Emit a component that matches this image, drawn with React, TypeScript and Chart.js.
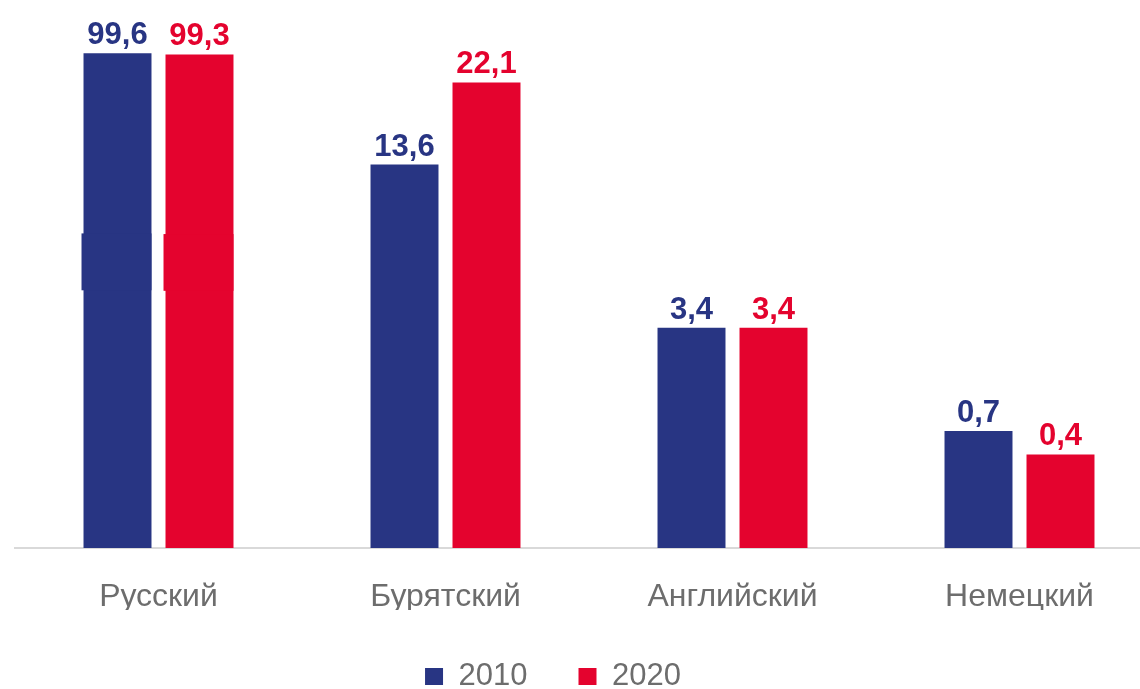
import React, { useEffect, useRef } from 'react';
import { Chart, registerables, LinearScale } from 'chart.js';

// ---- data ----
const categories = ['Русский', 'Бурятский', 'Английский', 'Немецкий'];
const seriesLabels = ['2010', '2020'];
const values2010 = [99.6, 13.6, 3.4, 0.7];
const values2020 = [99.3, 22.1, 3.4, 0.4];

// ---- styles ----
const BLUE = '#283583';
const RED = '#e4032e';
const GREY_TEXT = '#6d6d6d';
const FONT = "'Liberation Sans', Arial, sans-serif";

// broken power axis: compressed (power) scale with a break for the large values
const EXPONENT = 0.4;
const BREAK_FROM = 25;
const BREAK_TO = 98;

function transform(v: number): number {
  const x = Math.max(v, 0);
  if (x <= BREAK_FROM) return Math.pow(x, EXPONENT);
  if (x < BREAK_TO) return Math.pow(BREAK_FROM, EXPONENT);
  return Math.pow(BREAK_FROM, EXPONENT) + Math.pow(x, EXPONENT) - Math.pow(BREAK_TO, EXPONENT);
}
function inverse(t: number): number {
  const tf = Math.pow(BREAK_FROM, EXPONENT);
  if (t <= tf) return Math.pow(Math.max(t, 0), 1 / EXPONENT);
  return Math.pow(t - tf + Math.pow(BREAK_TO, EXPONENT), 1 / EXPONENT);
}

class BrokenPowerScale extends LinearScale {
  static id = 'brokenPower';
  static defaults = (LinearScale as any).defaults;
  getPixelForValue(value: number) {
    const t0 = transform((this as any).min);
    const t1 = transform((this as any).max);
    return this.getPixelForDecimal((transform(value) - t0) / (t1 - t0));
  }
  getValueForPixel(pixel: number) {
    const t0 = transform((this as any).min);
    const t1 = transform((this as any).max);
    return inverse(t0 + this.getDecimalForPixel(pixel) * (t1 - t0));
  }
}

Chart.register(...registerables, BrokenPowerScale);

const fmt = (v: number) => v.toFixed(1).replace('.', ',');

const valueLabelsPlugin = {
  id: 'valueLabels',
  afterDatasetsDraw(chart: any) {
    const ctx = chart.ctx;
    ctx.save();
    chart.data.datasets.forEach((ds: any, di: number) => {
      const meta = chart.getDatasetMeta(di);
      meta.data.forEach((el: any, i: number) => {
        ctx.fillStyle = ds.backgroundColor;
        ctx.font = `bold 31px ${FONT}`;
        ctx.textAlign = 'center';
        ctx.textBaseline = 'alphabetic';
        ctx.fillText(fmt(ds.data[i]), el.x, el.y - 9);
      });
    });
    ctx.restore();
  },
};

// break marks on the broken (largest) bars
const breakMarkPlugin = {
  id: 'breakMark',
  afterDatasetsDraw(chart: any) {
    const ctx = chart.ctx;
    ctx.save();
    chart.data.datasets.forEach((ds: any, di: number) => {
      const meta = chart.getDatasetMeta(di);
      meta.data.forEach((el: any, i: number) => {
        if (ds.data[i] < BREAK_TO) return;
        const len = el.base - el.y;
        const y1 = el.base - len * 0.636;
        const y2 = el.base - len * 0.521;
        ctx.fillStyle = ds.backgroundColor;
        ctx.fillRect(el.x - el.width / 2 - 2, y1, el.width + 2, y2 - y1);
      });
    });
    ctx.restore();
  },
};

export default function App() {
  const ref = useRef<HTMLCanvasElement | null>(null);
  useEffect(() => {
    if (!ref.current) return;
    const chart = new Chart(ref.current, {
      type: 'bar',
      data: {
        labels: categories,
        datasets: [
          {
            label: seriesLabels[0],
            data: values2010,
            backgroundColor: BLUE,
            borderWidth: 0,
            barPercentage: 0.829,
            categoryPercentage: 0.5714,
          },
          {
            label: seriesLabels[1],
            data: values2020,
            backgroundColor: RED,
            borderWidth: 0,
            barPercentage: 0.829,
            categoryPercentage: 0.5714,
          },
        ],
      },
      options: {
        responsive: false,
        animation: false,
        devicePixelRatio: 1,
        layout: { padding: { top: 52, left: 0, right: 0, bottom: 0 } },
        scales: {
          x: {
            type: 'category',
            offset: true,
            grid: { display: false, drawTicks: false },
            border: { display: true, color: '#d9d9d9', width: 2 },
            ticks: { color: GREY_TEXT, font: { size: 32, family: FONT }, padding: 30 },
            afterFit: (s: any) => {
              s.height = 62;
            },
          },
          y: {
            type: 'brokenPower' as any,
            min: 0,
            max: 100,
            position: 'left',
            grid: { display: false },
            border: { display: false },
            ticks: { display: false },
            afterFit: (s: any) => {
              s.width = 72;
            },
          },
        },
        plugins: {
          legend: {
            position: 'bottom',
            align: 'center',
            labels: {
              boxWidth: 18,
              boxHeight: 17,
              padding: 51,
              color: GREY_TEXT,
              font: { size: 31, family: FONT },
            },
          },
          tooltip: { enabled: false },
        },
      } as any,
      plugins: [breakMarkPlugin, valueLabelsPlugin],
    });
    return () => chart.destroy();
  }, []);

  return (
    <div
      style={{
        position: 'fixed',
        left: 0,
        top: 0,
        width: 1140,
        height: 689,
        overflow: 'hidden',
        background: '#ffffff',
      }}
    >
      <canvas ref={ref} width={1220} height={702} style={{ position: 'absolute', left: -57, top: 0 }} />
    </div>
  );
}
